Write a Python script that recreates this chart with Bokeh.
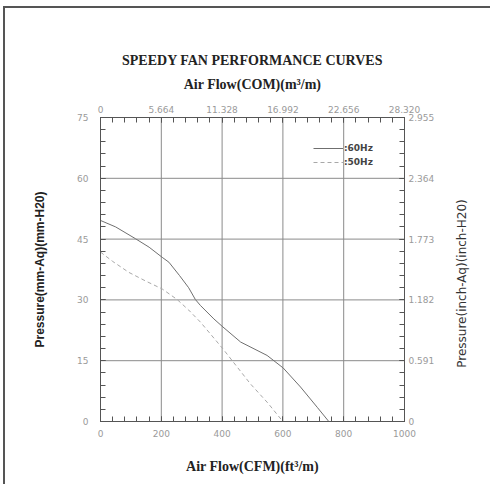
import math
from bokeh.plotting import figure
from bokeh.models import Range1d, LinearAxis, FixedTicker, Legend, LegendItem, Label
from bokeh.embed import file_html
from bokeh.resources import INLINE

# ---- data ----
cfm_60 = [0, 50, 115, 160, 203, 225, 260, 290, 312, 329, 373, 403, 461, 548, 601, 658, 713, 751]
p_60 = [49.6, 48.0, 45.1, 43.0, 40.5, 39.3, 36.0, 33.0, 30.1, 28.6, 25.3, 23.3, 19.6, 16.3, 13.2, 8.5, 3.5, 0.0]
cfm_50 = [0, 40, 93, 150, 203, 252, 290, 329, 403, 493, 550, 600]
p_50 = [41.8, 39.5, 36.8, 34.6, 32.7, 30.1, 27.5, 24.5, 17.9, 9.3, 4.6, 0.0]

x_ticks = [0, 200, 400, 600, 800, 1000]
y_ticks = [0, 15, 30, 45, 60, 75]
top_ticks = [0, 5.664, 11.328, 16.992, 22.656, 28.32]
top_labels = ["0", "5.664", "11.328", "16.992", "22.656", "28.320"]
right_ticks = [0, 0.591, 1.182, 1.773, 2.364, 2.955]
right_labels = ["0", "0.591", "1.182", "1.773", "2.364", "2.955"]
series_labels = [":60Hz", ":50Hz"]
left_title = "Pressure(mm-Aq)(mm-H20)"
right_title = "Pressure(inch-Aq)(inch-H20)"

TICK_COL = "#9a9a9a"
AXIS_COL = "#555555"
GRID_COL = "#8a8a8a"

p = figure(output_backend="svg", toolbar_location=None,
           frame_width=304, frame_height=304,
           min_border_left=95, min_border_right=86,
           min_border_top=109, min_border_bottom=63,
           x_range=Range1d(0, 1000), y_range=Range1d(0, 75),
           x_axis_location=None, y_axis_location=None,
           title="SPEEDY FAN PERFORMANCE CURVES")
p.width = 485
p.height = 476
p.styles = {"border-top": "2px solid #555555", "border-left": "2px solid #555555",
            "margin-left": "3px", "margin-top": "6px"}
p.background_fill_color = "white"
p.border_fill_color = "white"
p.outline_line_color = AXIS_COL

p.title.align = "center"
p.title.text_font = "Liberation Serif"
p.title.text_font_style = "bold"
p.title.text_font_size = "14px"
p.title.text_color = "#222222"
p.title.standoff = 11

p.extra_x_ranges = {"com": Range1d(0, 28.32)}
p.extra_y_ranges = {"inch": Range1d(0, 2.955)}


def style(ax, ticks, minor, overrides=None):
    ax.ticker = FixedTicker(ticks=ticks, minor_ticks=minor)
    if overrides:
        ax.major_label_overrides = overrides
    ax.axis_line_color = AXIS_COL
    ax.major_tick_line_color = AXIS_COL
    ax.minor_tick_line_color = AXIS_COL
    ax.major_tick_in = 5
    ax.major_tick_out = 0
    ax.minor_tick_in = 5
    ax.minor_tick_out = 0
    ax.major_label_text_color = TICK_COL
    ax.major_label_text_font = "DejaVu Sans"
    ax.major_label_text_font_size = "9px"
    ax.axis_label_text_color = "#222222"


bottom = LinearAxis(axis_label="Air Flow(CFM)(ft³/m)")
style(bottom, x_ticks, [i * 40 for i in range(26)])
bottom.major_label_standoff = 8
bottom.axis_label_standoff = 19
bottom.axis_label_text_font = "Liberation Serif"
bottom.axis_label_text_font_style = "bold"
bottom.axis_label_text_font_size = "14px"
p.add_layout(bottom, "below")

top = LinearAxis(x_range_name="com", axis_label="Air Flow(COM)(m³/m)")
style(top, top_ticks, [i * 1.1328 for i in range(26)],
      {t: l for t, l in zip(top_ticks, top_labels)})
top.major_label_standoff = 5
top.axis_label_standoff = 11
top.axis_label_text_font = "Liberation Serif"
top.axis_label_text_font_style = "bold"
top.axis_label_text_font_size = "14px"
p.add_layout(top, "above")

left = LinearAxis(axis_label=left_title)
style(left, y_ticks, [i * 3 for i in range(26)])
left.major_label_standoff = 12
left.axis_label_standoff = 27
left.axis_label_text_font = "Liberation Sans"
left.axis_label_text_font_style = "bold"
left.axis_label_text_font_size = "12px"
p.add_layout(left, "left")

right = LinearAxis(y_range_name="inch")
style(right, right_ticks, [i * 0.1182 for i in range(26)],
      {t: l for t, l in zip(right_ticks, right_labels)})
right.major_label_standoff = 4
p.add_layout(right, "right")

# right-hand axis title, reading bottom to top
p.add_layout(Label(x=24, y=138, x_units="screen", y_units="screen",
                   text=right_title, angle=math.pi / 2,
                   text_align="center", text_baseline="middle",
                   text_font="DejaVu Sans", text_font_size="12px",
                   text_color="#333333"), "right")

# grid
p.xgrid.grid_line_color = None
p.ygrid.grid_line_color = None
for loc in [200, 400, 600, 800]:
    p.segment(x0=[loc], y0=[0], x1=[loc], y1=[75], line_color=GRID_COL, line_width=1)
for loc in [15, 30, 45, 60]:
    p.segment(x0=[0], y0=[loc], x1=[1000], y1=[loc], line_color=GRID_COL, line_width=1)

r60 = p.line(cfm_60, p_60, line_color="#6f6f6f", line_width=1)
r50 = p.line(cfm_50, p_50, line_color="#a8a8a8", line_width=1, line_dash="4 3")

legend = Legend(items=[LegendItem(label=series_labels[0], renderers=[r60]),
                       LegendItem(label=series_labels[1], renderers=[r50])],
                location=(213, 253))
legend.glyph_width = 30
legend.glyph_height = 12
legend.label_standoff = 1
legend.spacing = 2
legend.padding = 0
legend.margin = 0
legend.border_line_color = None
legend.background_fill_alpha = 0
legend.label_text_font = "DejaVu Sans"
legend.label_text_font_style = "bold"
legend.label_text_font_size = "9px"
legend.label_text_color = "#444444"
legend.label_height = 12
p.add_layout(legend, "center")

open("out.html", "w").write(file_html(p, INLINE))
